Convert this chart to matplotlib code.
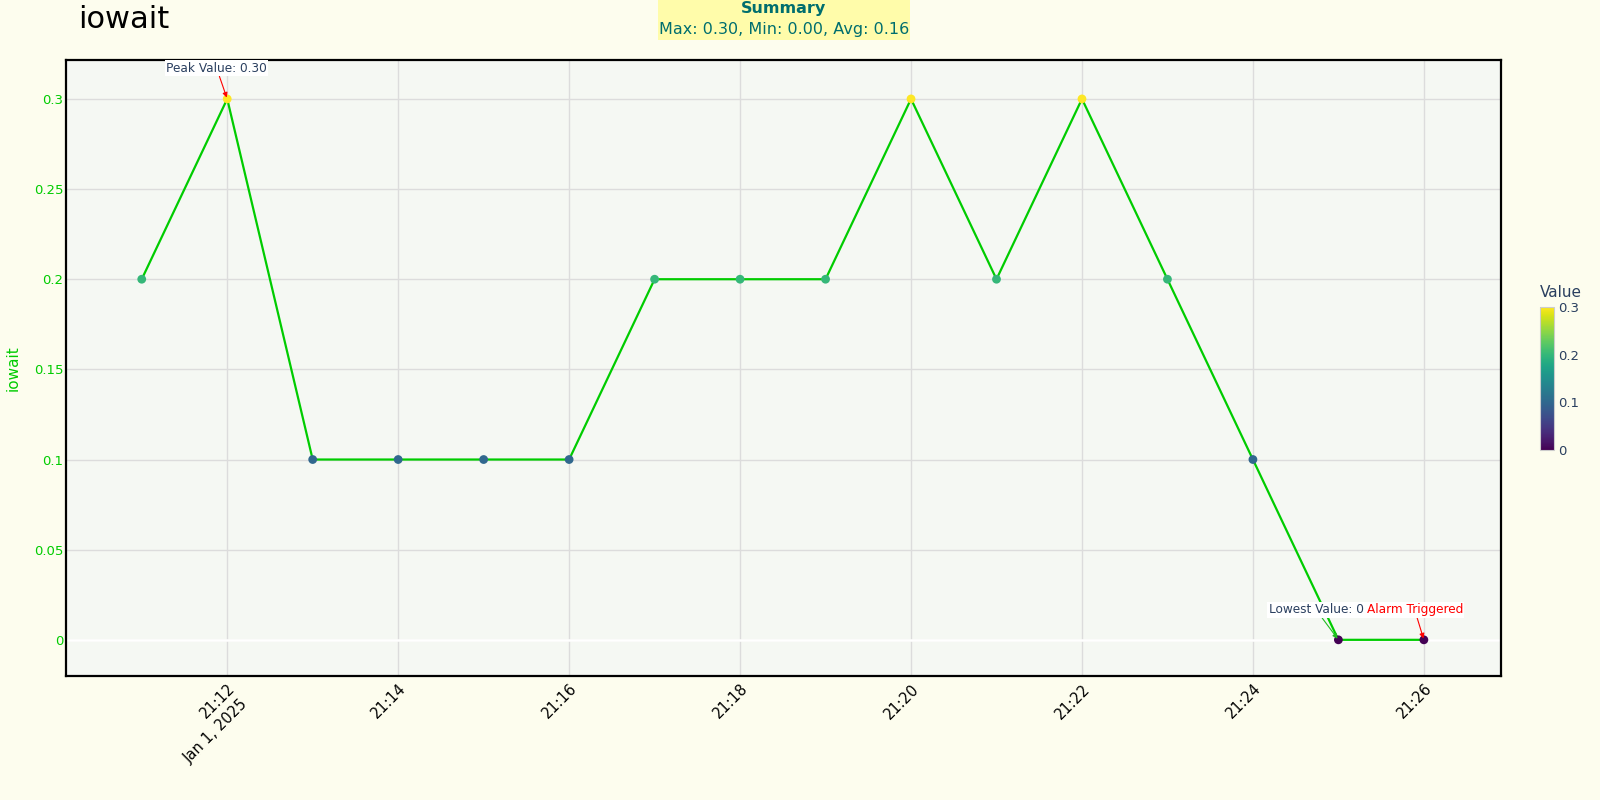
import matplotlib
matplotlib.use('Agg')
import matplotlib.pyplot as plt
import numpy as np
import pandas as pd

times = pd.date_range('2025-01-01 21:11', periods=16, freq='min')
values = [0.2, 0.3, 0.1, 0.1, 0.1, 0.1, 0.2, 0.2, 0.2, 0.3, 0.2, 0.3, 0.2, 0.1, 0.0, 0.0]
yticks = [0, 0.05, 0.1, 0.15, 0.2, 0.25, 0.3]
ytick_labels = ['0', '0.05', '0.1', '0.15', '0.2', '0.25', '0.3']

vals = np.array(values)
vmax, vmin, vavg = vals.max(), vals.min(), vals.mean()

green = '#00cc00'
txt_dark = '#2a3f5f'

fig = plt.figure(figsize=(16, 8), dpi=100)
fig.patch.set_facecolor('#fdfdee')
ax = fig.add_axes([0.0414, 0.1556, 0.8966, 0.7692])
ax.set_facecolor('#f5f8f3')

ax.plot(times, vals, color=green, lw=1.6, zorder=3)
sc = ax.scatter(times, vals, c=vals, cmap='viridis', vmin=0, vmax=0.3, s=40, zorder=4, edgecolors='none')

ax.set_xlim(times[0] - pd.Timedelta(seconds=53), times[-1] + pd.Timedelta(seconds=54))
ax.set_ylim(-0.0198, 0.3215)
ax.set_yticks(yticks)
ax.set_yticklabels(ytick_labels)
ax.axhline(0, color='white', lw=1.8, zorder=2)

xt = pd.date_range('2025-01-01 21:12', '2025-01-01 21:26', freq='2min')
ax.set_xticks(xt)
ax.set_xticklabels([t.strftime('%H:%M') for t in xt], fontsize=10.5, color='black')
for lab in ax.get_xticklabels():
    lab.set_rotation(45)
    lab.set_rotation_mode('anchor')
    lab.set_ha('right')
    lab.set_va('top')
ax.tick_params(axis='x', length=0, pad=4)
ax.tick_params(axis='y', length=0, pad=2, labelcolor=green, labelsize=9.5)
# date line under the first tick
ax.annotate('Jan 1, 2025', xy=(xt[0], 0), xycoords=('data', 'axes fraction'),
            xytext=(-8.3, -40.0), textcoords='offset points', rotation=45,
            rotation_mode='anchor', ha='center', va='center', fontsize=10.5, color='black',
            annotation_clip=False)
ax.grid(True, color='#dcdcdc', lw=1, zorder=1)
ax.set_axisbelow(True)
for sp in ax.spines.values():
    sp.set_color('black')
    sp.set_linewidth(1.6)

ax.set_ylabel('iowait', color=green, fontsize=11)
ax.yaxis.set_label_coords(-0.032, 0.5)

bbox_w = dict(boxstyle='square,pad=0.12', fc='white', ec='none')
i_peak = int(np.argmax(vals))
ax.annotate(f'Peak Value: {vmax:.2f}', xy=(times[i_peak], vmax), xytext=(-7.6, 22),
            textcoords='offset points', ha='center', va='center', fontsize=8.7, color=txt_dark,
            bbox=bbox_w, arrowprops=dict(arrowstyle='-|>', color='red', lw=0.8, mutation_scale=7,
                                         shrinkA=0, shrinkB=1), zorder=6)
ax.annotate('Alarm Triggered', xy=(times[-1], values[-1]), xytext=(-6.6, 21.5),
            textcoords='offset points', ha='center', va='center', fontsize=8.7, color='red',
            bbox=bbox_w, arrowprops=dict(arrowstyle='-|>', color='red', lw=0.8, mutation_scale=7,
                                         shrinkA=0, shrinkB=1), zorder=6)
i_low = int(np.argmin(vals))
ax.annotate(f'Lowest Value: {vmin:g}', xy=(times[i_low], vmin), xytext=(-16, 21.5),
            textcoords='offset points', ha='center', va='center', fontsize=8.7, color=txt_dark,
            bbox=bbox_w, arrowprops=dict(arrowstyle='-|>', color='#22bb22', lw=0.8, mutation_scale=7,
                                         shrinkA=0, shrinkB=1), zorder=7)

fig.text(0.049, 0.975, 'iowait', fontsize=22, color='black', ha='left', va='center')

# summary box
teal = '#006e6e'
fig.patches.append(plt.Rectangle((0.4115, 0.950), 0.157, 0.05, transform=fig.transFigure,
                                 fc='#fffcaa', ec='none'))
fig.text(0.49, 0.989, 'Summary', fontsize=11.5, fontweight='bold', color=teal, ha='center', va='center')
fig.text(0.49, 0.963, f'Max: {vmax:.2f}, Min: {vmin:.2f}, Avg: {vavg:.2f}', fontsize=11.5,
         color=teal, ha='center', va='center')

cax = fig.add_axes([0.9625, 0.4375, 0.00875, 0.179])
cb = fig.colorbar(sc, cax=cax)
cb.set_ticks([0, 0.1, 0.2, 0.3])
cb.set_ticklabels(['0', '0.1', '0.2', '0.3'])
cb.outline.set_edgecolor('#cccccc')
cb.outline.set_linewidth(0.8)
cax.tick_params(length=0, labelsize=9.5, labelcolor=txt_dark, pad=3)
cax.text(0, 1.045, 'Value', transform=cax.transAxes, fontsize=11, color=txt_dark,
         ha='left', va='bottom')

fig.savefig('out.png', dpi=100, facecolor=fig.get_facecolor())
